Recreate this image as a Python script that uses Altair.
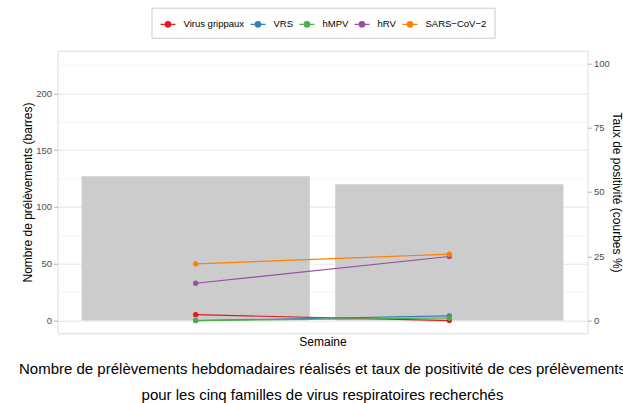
import altair as alt
import pandas as pd

weeks = ["S1", "S2"]
samples = [127, 120]

series_names = ["Virus grippaux", "VRS", "hMPV", "hRV", "SARS\u2212CoV\u22122"]
series_colors = ["#E41A1C", "#377EB8", "#4DAF4A", "#984EA3", "#FF7F00"]
flu = [2.3, 0.0]
vrs = [0.0, 1.8]
hmpv = [0.0, 1.0]
hrv = [14.5, 24.9]
sars = [22.0, 25.8]

left_ticks = [0, 25, 50, 75, 100, 125, 150, 175, 200, 225]
right_ticks = [0, 25, 50, 75, 100]

bars_df = pd.DataFrame({"week": weeks, "n": samples})
rows = []
for name, vals in zip(series_names, [flu, vrs, hmpv, hrv, sars]):
    for w, v in zip(weeks, vals):
        rows.append({"week": w, "virus": name, "rate": v})
lines_df = pd.DataFrame(rows)

FONT = "Liberation Sans"

xscale = alt.Scale(domain=weeks, paddingInner=0.1, paddingOuter=0.095)
xaxis = alt.Axis(title="Semaine", labels=False, ticks=False, domain=False, grid=False,
                 titleFontSize=12, titleFontWeight="normal", titleColor="black",
                 titleFont=FONT, titlePadding=3)

major_test = "datum.value % 50 === 0"

bars = alt.Chart(bars_df).mark_bar(color="#CCCCCC").encode(
    x=alt.X("week:N", scale=xscale, axis=xaxis),
    y=alt.Y("n:Q", scale=alt.Scale(domain=[-11.2, 237.5], nice=False, zero=False),
            axis=alt.Axis(title="Nombre de prélèvements (barres)", values=left_ticks,
                          labelExpr="datum.value % 50 === 0 ? datum.label : ''",
                          grid=True,
                          gridColor={"condition": {"test": major_test, "value": "#E6E6E6"}, "value": "#F3F3F3"},
                          tickOpacity={"condition": {"test": major_test, "value": 1}, "value": 0},
                          tickColor="#B3B3B3", tickSize=4, domain=False,
                          labelColor="#4D4D4D", labelFontSize=9.5, labelFont=FONT, labelPadding=2,
                          titleFontSize=12, titleFontWeight="normal", titleColor="black",
                          titleFont=FONT, titlePadding=1)),
    y2=alt.datum(0),
)

color_scale = alt.Scale(domain=series_names, range=series_colors)
legend = alt.Legend(
    title=None, orient="none", legendX=94, legendY=-43, direction="horizontal",
    symbolType="M-1,0L1,0M-0.36,0A0.36,0.36 0 1,1 0.36,0A0.36,0.36 0 1,1 -0.36,0Z",
    symbolSize=225, symbolStrokeWidth=1.3,
    labelFontSize=9.5, labelFont=FONT, labelColor="black", labelOffset=7,
    columnPadding=3, padding=8, strokeColor="#CCCCCC", fillColor="white",
    symbolOffset=0, rowPadding=0,
)

right_y = alt.Y("rate:Q", scale=alt.Scale(domain=[-4.95, 104.9], nice=False, zero=False),
                axis=alt.Axis(title="Taux de positivité (courbes %)", orient="right",
                              values=right_ticks, grid=False, domain=False,
                              tickColor="#B3B3B3", tickSize=4,
                              labelColor="#4D4D4D", labelFontSize=9.5, labelFont=FONT, labelPadding=2,
                              titleFontSize=12, titleFontWeight="normal", titleColor="black",
                              titleFont=FONT, titlePadding=0))

lines = alt.Chart(lines_df).mark_line(strokeWidth=1.2).encode(
    x=alt.X("week:N", scale=xscale, axis=xaxis),
    y=right_y,
    color=alt.Color("virus:N", scale=color_scale, sort=series_names, legend=legend),
    detail="virus:N",
)
points = alt.Chart(lines_df).mark_circle(size=28, opacity=1).encode(
    x=alt.X("week:N", scale=xscale, axis=xaxis),
    y=right_y,
    color=alt.Color("virus:N", scale=color_scale, sort=series_names, legend=legend),
)

chart = alt.layer(bars, alt.layer(lines, points)).resolve_scale(y="independent").properties(
    width=530, height=282.6,
    autosize=alt.AutoSizeParams(type="none"),
    padding={"left": 57.5, "top": 50.7, "right": 35.5, "bottom": 69.7},
    title=alt.Title(
        ["Nombre de prélèvements hebdomadaires réalisés et taux de positivité de ces prélèvements",
         "pour les cinq familles de virus respiratoires recherchés"],
        orient="bottom", anchor="middle", fontSize=15, font=FONT, fontWeight="normal",
        color="black", lineHeight=26, offset=15,
    ),
).configure_view(stroke="#B3B3B3", strokeWidth=1).configure(background="white")

chart.save("out.html", embed_options={"renderer": "svg", "actions": False})
